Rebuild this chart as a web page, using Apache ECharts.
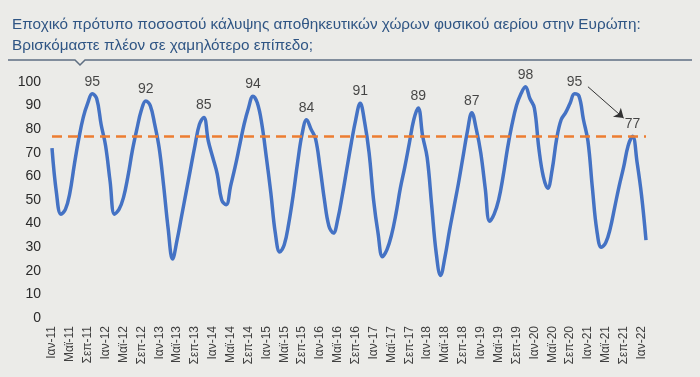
<!DOCTYPE html>
<html>
<head>
<meta charset="utf-8">
<script src="https://cdn.jsdelivr.net/npm/echarts@6/dist/echarts.min.js"></script>
<style>
  html, body { margin: 0; padding: 0; background: #ebebe8; }
  #viewA { width: 700px; height: 377px; }
</style>
</head>
<body>
<div id="viewA"></div>
<script>
// monthly storage fill level, Jan-11 .. Feb-22 (% of capacity)
const monthNames = ["Ιαν", "Φεβ", "Μαρ", "Απρ", "Μαϊ", "Ιουν", "Ιουλ", "Αυγ", "Σεπ", "Οκτ", "Νοε", "Δεκ"];
const firstYear = 11;
const fillPct = [
  72, 53, 44, 46, 53, 65, 76, 85, 91, 95, 93, 82,   // 2011
  73, 58, 44, 46, 51, 60, 71, 80, 88, 92, 90, 82,   // 2012
  72, 56, 38, 25, 33, 43, 53, 63, 73, 82, 85, 75,   // 2013
  68, 61, 50, 48, 56, 64, 73, 82, 89, 94, 91, 82,   // 2014
  68, 53, 36, 28, 31, 40, 52, 66, 78, 84, 80, 76,   // 2015
  64, 50, 39, 36, 42, 52, 63, 74, 84, 91, 83, 70,   // 2016
  50, 36, 26, 29, 35, 44, 55, 64, 74, 84, 89, 77,   // 2017
  68, 48, 28, 18, 26, 37, 47, 57, 68, 79, 87, 80,   // 2018
  70, 55, 41, 44, 50, 60, 72, 82, 90, 95, 98, 93,   // 2019
  89, 72, 60, 55, 63, 76, 84, 87, 91, 95, 94, 84,   // 2020
  75, 55, 37, 30, 32, 38, 47, 56, 64, 73, 77, 66,   // 2021
  52, 33                                            // 2022
];
// labelled seasonal peaks (month index into fillPct)
const peakIdx = [9, 21, 34, 45, 57, 69, 82, 94, 106, 117, 130];
// average level reference line
const refLevel = 77;
// arrow from the 2020 peak label to the 2021 peak label: [month index, value]
const arrowFrom = [119.7, 98];
const arrowTo = [128, 84.7];
const yTicks = { min: 0, max: 100, interval: 10 };

let months = fillPct.map((v, i) => monthNames[i % 12] + "-" + (firstYear + Math.floor(i / 12)));
let peaks = peakIdx.map(i => [i, fillPct[i]]);

let option = {
  backgroundColor: "#ebebe8",
  animation: false,
  title: {
    text: "Εποχικό πρότυπο ποσοστού κάλυψης αποθηκευτικών χώρων φυσικού αερίου στην Ευρώπη:\nΒρισκόμαστε πλέον σε χαμηλότερο επίπεδο;",
    left: 7,
    top: 9,
    textStyle: { fontFamily: "Liberation Sans", fontSize: 15.3, fontWeight: "normal", color: "#2f5584", lineHeight: 21 }
  },
  graphic: [{
    type: "polyline",
    shape: { points: [[8, 60], [75, 60], [80, 65], [85, 60], [692, 60]] },
    style: { stroke: "#5f6f82", lineWidth: 1.5, fill: null }
  }],
  grid: { left: 52, right: 54, top: 82, bottom: 59 },
  xAxis: {
    type: "category",
    data: months,
    boundaryGap: false,
    axisLine: { show: false },
    axisTick: { show: false },
    axisLabel: {
      interval: 3,
      rotate: 90,
      margin: 8,
      color: "#404040",
      fontFamily: "Liberation Sans",
      fontSize: 12
    }
  },
  yAxis: {
    type: "value",
    min: yTicks.min,
    max: yTicks.max,
    interval: yTicks.interval,
    splitLine: { show: false },
    axisLine: { show: false },
    axisTick: { show: false },
    axisLabel: { margin: 11, color: "#2a2a2a", fontFamily: "Liberation Sans", fontSize: 14 }
  },
  series: [
    {
      name: "fill",
      type: "line",
      data: fillPct,
      smooth: 0.4,
      symbol: "none",
      lineStyle: { color: "#4472c4", width: 3.5 },
      markLine: {
        silent: true,
        symbol: "none",
        label: { show: false },
        lineStyle: { color: "#ed7d31", width: 2.5, type: [10, 6] },
        data: [{ yAxis: refLevel }]
      },
      z: 3
    },
    {
      name: "peaks",
      type: "scatter",
      data: peaks,
      symbolSize: 0,
      label: {
        show: true,
        position: "top",
        distance: 5,
        color: "#1a1a1a",
        fontFamily: "Liberation Sans",
        fontSize: 14,
        formatter: p => p.value[1]
      },
      markLine: {
        silent: true,
        symbol: ["none", "arrow"],
        symbolSize: 9,
        label: { show: false },
        lineStyle: { color: "#333", width: 1, type: "solid" },
        data: [[{ coord: arrowFrom }, { coord: arrowTo }]]
      },
      z: 4
    }
  ]
};

let chart = echarts.init(document.getElementById("viewA"));
chart.setOption(option);
</script>
</body>
</html>
